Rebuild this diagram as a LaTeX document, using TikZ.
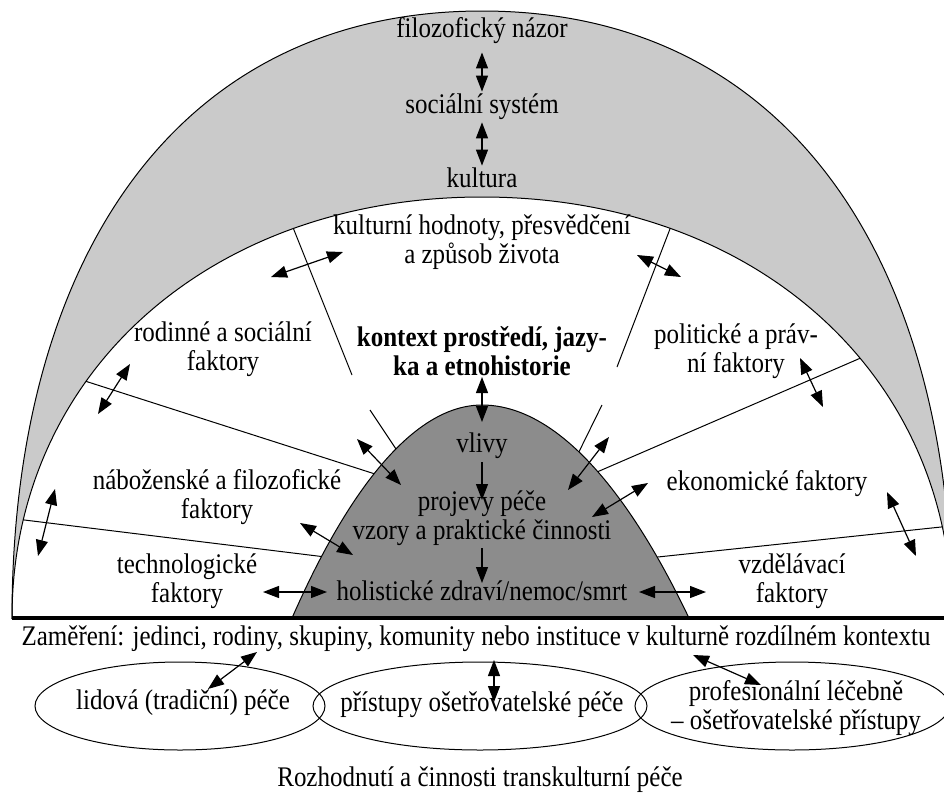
\documentclass[tikz,border=0pt]{standalone}
\usepackage{fontspec}
\setmainfont{Liberation Serif}[FakeStretch=0.88]
\usetikzlibrary{arrows.meta}
\definecolor{pasmo}{RGB}{202,202,202}
\definecolor{kopec}{RGB}{140,140,140}
\tikzset{
  txt/.style={font=\fontsize{14.2pt}{14.5pt}\selectfont, align=center, inner sep=1pt},
  obousm/.style={{Triangle[length=8pt,width=6pt]}-{Triangle[length=8pt,width=6pt]}, line width=0.6pt},
  jednosm/.style={-{Triangle[length=8pt,width=6pt]}, line width=0.6pt},
  delic/.style={line width=0.5pt},
  elipsa/.style={line width=0.5pt, y radius=22pt}
}
\newcommand{\vnejsi}{(12,618) .. controls (12,266) and (172,11) .. (482,11) .. controls (792,11) and (952,266) .. (952,618) -- cycle}
\newcommand{\vnitrni}{(12,618) .. controls (12,374) and (209,197) .. (482,197) .. controls (755,197) and (952,374) .. (952,618) -- cycle}

\begin{document}
\begin{tikzpicture}[x=0.5pt, y=-0.5pt]
    \useasboundingbox (0,0) rectangle (944,794);
    % vnejsi pasmo a vnitrni pole
    \fill[pasmo] \vnejsi;
    \fill[white] \vnitrni;
    % delici cary faktoru
    \begin{scope}
        \clip \vnitrni;
        \draw[delic] (280,195) -- (352,375);
        \draw[delic] (370,410) -- (410,470);
        \draw[delic] (683,195) -- (617,367);
        \draw[delic] (602,405) -- (570,470);
        \draw[delic] (60,373) -- (400,482);
        \draw[delic] (0,517) -- (350,560);
        \draw[delic] (900,341) -- (560,488);
        \draw[delic] (960,525) -- (620,561);
    \end{scope}
    \draw[line width=0.5pt] \vnejsi;
    \draw[line width=0.5pt] \vnitrni;
    % kopec
    \draw[line width=0.5pt, fill=kopec] (292,618) parabola bend (482,405) (689,618) -- cycle;
    \draw[line width=1.8pt] (12,618) -- (944,618);

    % texty
    \node[txt] (fil) at (482,31) {filozofický názor};
    \node[txt] (soc) at (482,107) {sociální systém};
    \node[txt] (kult) at (482,178) {kultura};
    \node[txt] (hodn) at (482,242) {kulturní hodnoty, přesvědčení\\a způsob života};
    \node[txt] (rodin) at (223,349) {rodinné a sociální\\faktory};
    \node[txt, font=\fontsize{14.2pt}{14.5pt}\selectfont\bfseries] (kontext) at (482,351) {kontext prostředí, jazy-\\ka a etnohistorie};
    \node[txt] (polit) at (736,351) {politické a práv-\\ní faktory};
    \node[txt] (vlivy) at (482,446) {vlivy};
    \node[txt] (nabo) at (217,497) {náboženské a filozofické\\faktory};
    \node[txt] (projevy) at (482,518) {projevy péče\\vzory a praktické činnosti};
    \node[txt] (ekon) at (767,484) {ekonomické faktory};
    \node[txt] (techn) at (187,581) {technologické\\faktory};
    \node[txt] (holist) at (482,591) {holistické zdraví/nemoc/smrt};
    \node[txt] (vzdel) at (792,581) {vzdělávací\\faktory};
    \node[txt] (zamer) at (476,639) {Zaměření: jedinci, rodiny, skupiny, komunity nebo instituce v kulturně rozdílném kontextu};
    \node[txt] (lidova) at (183,703) {lidová (tradiční) péče};
    \node[txt] (pristupy) at (482,705) {přístupy ošetřovatelské péče};
    \node[txt] (prof) at (796,708) {profesionální léčebně\\– ošetřovatelské přístupy};
    \node[txt] (rozh) at (480,780) {Rozhodnutí a činnosti transkulturní péče};

    % elipsy kolem textu
    \draw[elipsa] (lidova.center) ++(-3,3) ellipse [x radius=72.5pt];
    \draw[elipsa] (pristupy.center) ++(-2,1) ellipse [x radius=83.5pt];
    \draw[elipsa] (prof.center) ++(-4,-2) ellipse [x radius=78.5pt];

    % koncove body sipek
    \coordinate (a1) at (271,277);  \coordinate (b1) at (343,252);
    \coordinate (a2) at (637,255);  \coordinate (b2) at (681,277);
    \coordinate (a3) at (98,414);   \coordinate (b3) at (130,364);
    \coordinate (a4) at (800,358);  \coordinate (b4) at (823,407);
    \coordinate (a5) at (482,377);  \coordinate (b5) at (482,422);
    \coordinate (a6) at (357,439);  \coordinate (b6) at (401,485);
    \coordinate (a7) at (609,437);  \coordinate (b7) at (568,490);
    \coordinate (a8) at (648,483);  \coordinate (b8) at (592,517);
    \coordinate (a9) at (55,489);   \coordinate (b9) at (38,556);
    \coordinate (a10) at (300,523); \coordinate (b10) at (353,555);
    \coordinate (a11) at (887,492); \coordinate (b11) at (916,556);
    \coordinate (a12) at (263,592); \coordinate (b12) at (327,592);
    \coordinate (a13) at (639,592); \coordinate (b13) at (706,592);
    \coordinate (a14) at (257,652); \coordinate (b14) at (208,689);
    \coordinate (a15) at (494,660); \coordinate (b15) at (494,702);
    \coordinate (a16) at (693,655); \coordinate (b16) at (761,685);
    \coordinate (v1) at (482,462);  \coordinate (p1) at (482,500);
    \coordinate (v2) at (482,548);  \coordinate (p2) at (482,583);

    % sipky
    \draw[obousm, shorten <=3pt] (fil) -- (soc);
    \draw[obousm] (soc) -- (kult);
    \foreach \i in {1,...,16}
        \draw[obousm] (a\i) -- (b\i);
    \draw[jednosm] (v1) -- (p1);
    \draw[jednosm] (v2) -- (p2);
\end{tikzpicture}
\end{document}
